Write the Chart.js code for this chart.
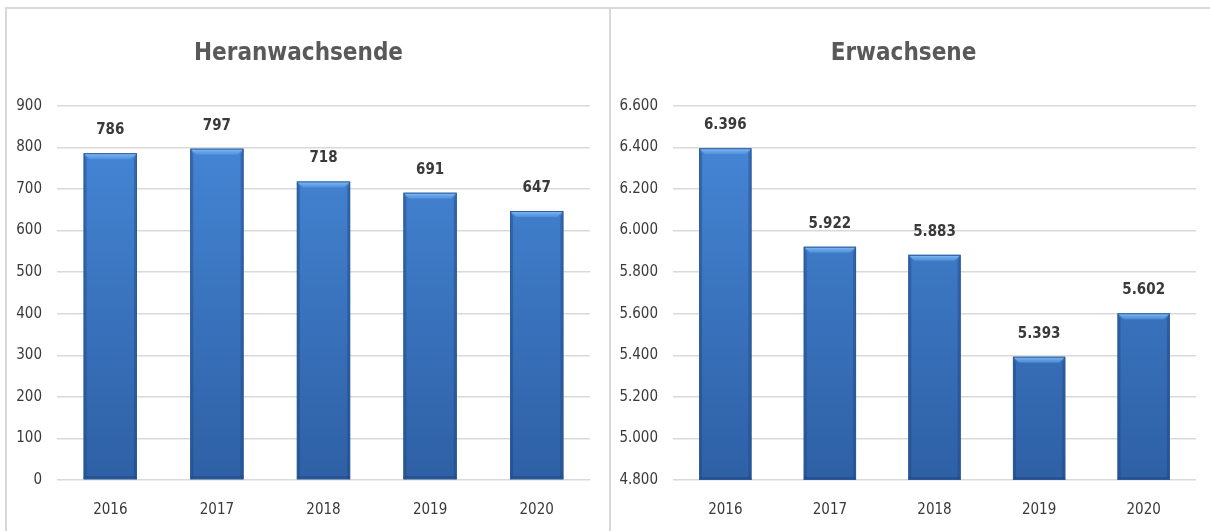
<!DOCTYPE html>
<html>
<head>
<meta charset="utf-8">
<script src="https://cdn.jsdelivr.net/npm/chart.js@4/dist/chart.umd.min.js"></script>
<style>
  body { margin: 0; background: #fff; width: 1210px; height: 531px; overflow: hidden; position: relative; }
  .box { position: absolute; top: 7px; height: 540px; border: 2px solid #d9d9d9; border-bottom: none; box-sizing: border-box; }
  #boxLeft { left: 5px; width: 606px; }
  #boxRight { left: 609px; width: 610px; }
  canvas { position: absolute; top: 9px; }
  #chartLeft { left: 7px; }
  #chartRight { left: 611px; }
</style>
</head>
<body>
<div class="box" id="boxLeft"></div>
<div class="box" id="boxRight"></div>
<canvas id="chartLeft" width="600" height="522"></canvas>
<canvas id="chartRight" width="597" height="522"></canvas>
<script>
var years = ["2016", "2017", "2018", "2019", "2020"];
var heranwachsende = [786, 797, 718, 691, 647];
var erwachsene = [6396, 5922, 5883, 5393, 5602];

var titleLeft = "Heranwachsende";
var titleRight = "Erwachsene";

var FONT = "'DejaVu Sans Condensed', 'Liberation Sans Narrow', sans-serif";

// 6396 -> "6.396"
function fmt(v) {
  return String(Math.round(v)).replace(/\B(?=(\d{3})+(?!\d))/g, ".");
}

// vertical blue gradient for the bars
function barFill(context) {
  var chart = context.chart;
  var area = chart.chartArea;
  if (!area) return "#3b78c8";
  var g = chart.ctx.createLinearGradient(0, area.top, 0, area.bottom);
  g.addColorStop(0, "#4789d9");
  g.addColorStop(1, "#2e60a5");
  return g;
}

// value labels above the bars + bevel on each bar
var barExtras = {
  id: "barExtras",
  afterDatasetsDraw: function(chart) {
    var ctx = chart.ctx;
    var meta = chart.getDatasetMeta(0);
    var data = chart.data.datasets[0].data;
    meta.data.forEach(function(bar, i) {
      var left = bar.x - bar.width / 2;
      var right = bar.x + bar.width / 2;
      var top = bar.y;
      var bottom = Math.min(bar.base, chart.chartArea.bottom);
      var b = 6;
      ctx.save();
      // top bevel
      var tg = ctx.createLinearGradient(0, top, 0, top + b);
      tg.addColorStop(0, "rgba(140,195,250,0.95)");
      tg.addColorStop(1, "rgba(90,155,230,0.6)");
      ctx.fillStyle = tg;
      ctx.beginPath();
      ctx.moveTo(left, top);
      ctx.lineTo(right, top);
      ctx.lineTo(right - b, top + b);
      ctx.lineTo(left + b, top + b);
      ctx.closePath();
      ctx.fill();
      // side bevels
      ctx.fillStyle = "rgba(25,60,115,0.35)";
      ctx.beginPath();
      ctx.moveTo(left, top);
      ctx.lineTo(left + 3, top + b);
      ctx.lineTo(left + 3, bottom);
      ctx.lineTo(left, bottom);
      ctx.closePath();
      ctx.fill();
      ctx.beginPath();
      ctx.moveTo(right, top);
      ctx.lineTo(right - 3, top + b);
      ctx.lineTo(right - 3, bottom);
      ctx.lineTo(right, bottom);
      ctx.closePath();
      ctx.fill();
      // bottom shade
      ctx.fillStyle = "rgba(25,55,105,0.35)";
      ctx.fillRect(left, bottom - 3, right - left, 3);
      // outline
      ctx.strokeStyle = "#2c5b9a";
      ctx.lineWidth = 1;
      ctx.strokeRect(left + 0.5, top + 0.5, right - left - 1, bottom - top - 1);
      // value label
      ctx.fillStyle = "#3a3a3a";
      ctx.font = "bold 15px " + FONT;
      ctx.textAlign = "center";
      ctx.textBaseline = "middle";
      ctx.fillText(fmt(data[i]), bar.x, top - 23);
      ctx.restore();
    });
  }
};

function makeChart(id, title, values, min, max, step, yWidth, padRight) {
  return new Chart(document.getElementById(id), {
    type: "bar",
    data: {
      labels: years,
      datasets: [{
        data: values,
        backgroundColor: barFill,
        borderWidth: 0,
        barPercentage: 0.5,
        categoryPercentage: 1.0
      }]
    },
    options: {
      responsive: false,
      animation: false,
      layout: { padding: { top: 0, right: padRight, bottom: 0, left: 0 } },
      plugins: {
        legend: { display: false },
        tooltip: { enabled: false },
        title: {
          display: true,
          text: title,
          color: "#595959",
          font: { family: FONT, size: 24, weight: "bold" },
          padding: { top: 30, bottom: 38 }
        }
      },
      scales: {
        x: {
          grid: { display: false, drawTicks: false },
          border: { display: false },
          ticks: { color: "#3a3a3a", font: { family: FONT, size: 15 }, padding: 21 },
          afterFit: function(scale) { scale.height = 51; }
        },
        y: {
          min: min,
          max: max,
          grid: { color: "#d9d9d9", lineWidth: 1.5, drawTicks: false },
          border: { display: false },
          ticks: {
            stepSize: step,
            color: "#3a3a3a",
            font: { family: FONT, size: 15 },
            padding: 15,
            callback: function(v) { return fmt(v); }
          },
          afterFit: function(scale) { scale.width = yWidth; }
        }
      }
    },
    plugins: [barExtras]
  });
}

makeChart("chartLeft", titleLeft, heranwachsende, 0, 900, 100, 50, 17);
makeChart("chartRight", titleRight, erwachsene, 4800, 6600, 200, 62, 12);
</script>
</body>
</html>
